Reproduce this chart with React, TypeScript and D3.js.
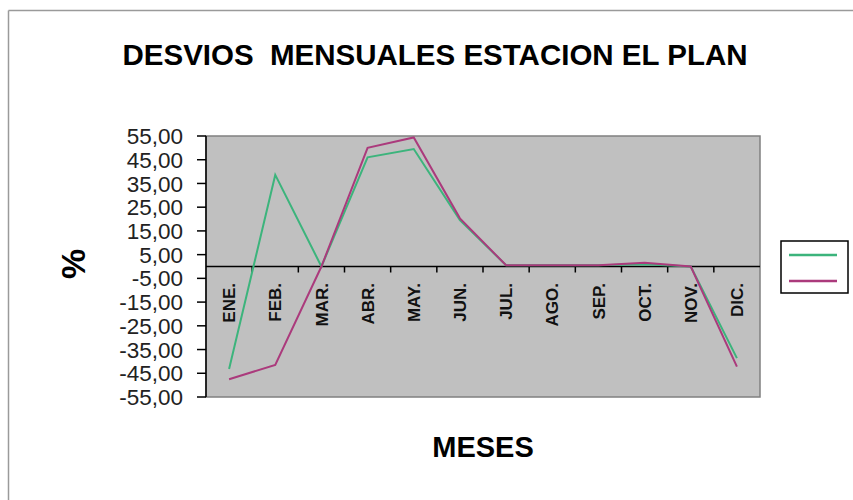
import React from "react";
import * as d3 from "d3";

const months = ["ENE.", "FEB.", "MAR.", "ABR.", "MAY.", "JUN.", "JUL.", "AGO.", "SEP.", "OCT.", "NOV.", "DIC."];
const seriesGreen = [-43.2, 38.6, 0, 46.0, 49.5, 19.6, 0.5, 0.5, 0.5, 1.0, 0, -38.6];
const seriesMagenta = [-47.5, -41.5, 0, 50.0, 54.4, 20.3, 0.5, 0.5, 0.5, 1.6, 0, -42.2];
const yTicks = [55, 45, 35, 25, 15, 5, -5, -15, -25, -35, -45, -55];
const titleText = "DESVIOS\u00a0\u00a0MENSUALES ESTACION EL PLAN";

const W = 853;
const H = 500;
const left = 206;
const right = 760;
const top = 136;
const bottom = 397;

export default function App() {
  const x = d3.scaleBand<string>().domain(months).range([left, right]).padding(0);
  const y = d3.scaleLinear().domain([-55, 55]).range([bottom, top]);
  const cx = (m: string) => (x(m) as number) + x.bandwidth() / 2;
  const line = d3
    .line<number>()
    .x((_, i) => cx(months[i]))
    .y((d) => y(d));
  const fmt = (v: number) => v.toFixed(2).replace(".", ",");
  const y0 = y(0);
  const font = "Liberation Sans, Arial, sans-serif";

  return (
    <svg
      width={W}
      height={H}
      style={{ position: "absolute", left: 0, top: 0, background: "#fff" }}
      fontFamily={font}
    >
      {/* outer frame */}
      <line x1={8.5} y1={10.5} x2={W} y2={10.5} stroke="#9a9a9a" strokeWidth={1.5} />
      <line x1={8.5} y1={10.5} x2={8.5} y2={H} stroke="#9a9a9a" strokeWidth={1.5} />

      {/* title */}
      <text x={435} y={65} textAnchor="middle" fontSize={29.5} fontWeight="bold" fill="#000">
        {titleText}
      </text>

      {/* plot area */}
      <rect x={left} y={top} width={right - left} height={bottom - top} fill="#c0c0c0" stroke="#808080" strokeWidth={1.5} />

      {/* y axis */}
      <line x1={left} y1={top} x2={left} y2={bottom} stroke="#000" strokeWidth={1.5} />
      {yTicks.map((t) => (
        <g key={t}>
          <line x1={left - 9} x2={left} y1={y(t)} y2={y(t)} stroke="#000" strokeWidth={1.5} />
          <text x={183} y={y(t)} dy="0.36em" textAnchor="end" fontSize={22.5} fill="#222">
            {fmt(t)}
          </text>
        </g>
      ))}

      {/* x axis at zero */}
      <line x1={left} x2={right} y1={y0} y2={y0} stroke="#000" strokeWidth={1.5} />
      {months.map((m, i) =>
        i === 0 ? null : (
          <line key={"t" + m} x1={x(m) as number} x2={x(m) as number} y1={y0} y2={y0 + 6} stroke="#000" strokeWidth={1.5} />
        )
      )}
      {months.map((m) => (
        <text
          key={m}
          transform={`translate(${cx(m)},283) rotate(-90)`}
          textAnchor="end"
          dy="0.36em"
          fontSize={17}
          fontWeight="bold"
          fill="#111"
        >
          {m}
        </text>
      ))}

      {/* series */}
      <path d={line(seriesGreen) || ""} fill="none" stroke="#3cb47c" strokeWidth={2} />
      <path d={line(seriesMagenta) || ""} fill="none" stroke="#ab3a7c" strokeWidth={2} />

      {/* axis titles */}
      <text transform="translate(85,264) rotate(-90)" textAnchor="middle" fontSize={34} fontWeight="bold" fill="#000">
        %
      </text>
      <text x={483} y={457} textAnchor="middle" fontSize={29} fontWeight="bold" fill="#000">
        MESES
      </text>

      {/* legend */}
      <rect x={781} y={241} width={67} height={52} fill="#fff" stroke="#000" strokeWidth={1.5} />
      <line x1={789} x2={837} y1={255} y2={255} stroke="#3cb47c" strokeWidth={2.5} />
      <line x1={789} x2={837} y1={281} y2={281} stroke="#ab3a7c" strokeWidth={2.5} />
    </svg>
  );
}
